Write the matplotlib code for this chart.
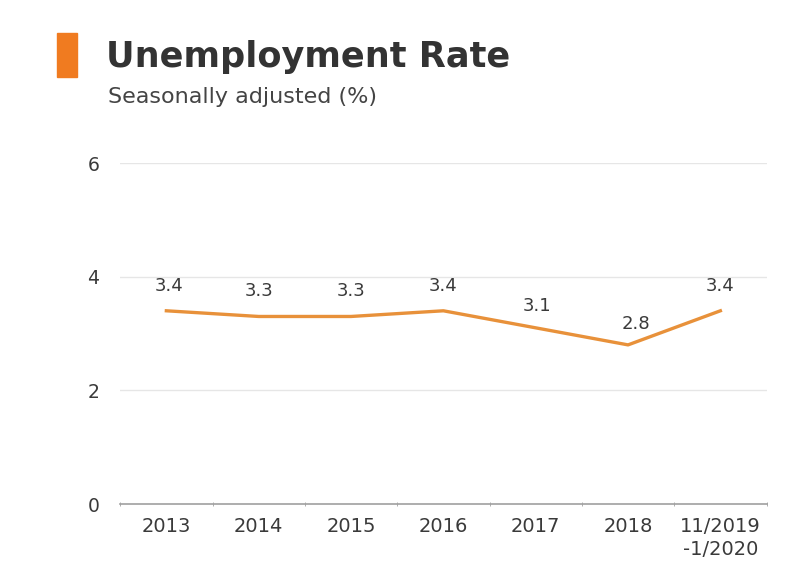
import numpy as np
import matplotlib.pyplot as plt
from matplotlib.patches import Rectangle

categories = ["2013", "2014", "2015", "2016", "2017", "2018", "11/2019\n-1/2020"]
rates = [3.4, 3.3, 3.3, 3.4, 3.1, 2.8, 3.4]
y_ticks = [0, 2, 4, 6]

plt.rcParams['font.family'] = ['DejaVu Sans']

fig = plt.figure(figsize=(7.96, 5.71), dpi=100)
ax = fig.add_axes([0.151, 0.1173, 0.812, 0.5972])

x = np.arange(len(categories))
ax.plot(x, rates, color='#E8913A', linewidth=2.4, solid_joinstyle='round')

# value labels, offsets in points
offsets = [(2, 18), (0, 18), (0, 18), (0, 18), (1, 16), (6, 15), (0, 18)]
for xi, v, off in zip(x, rates, offsets):
    ax.annotate(f"{v}", (xi, v), xytext=off, textcoords='offset points',
                ha='center', va='center', fontsize=13, color='#3a3a3a')

ax.set_xlim(-0.5, len(categories) - 0.5)
ax.set_ylim(0, 6)
ax.set_yticks(y_ticks)
ax.set_yticklabels([str(t) for t in y_ticks])
ax.set_xticks(x)
ax.set_xticklabels(categories, linespacing=1.3)
ax.set_xticks(np.arange(len(categories) + 1) - 0.5, minor=True)

ax.grid(axis='y', color='#e6e6e6', linewidth=1)
ax.set_axisbelow(True)
for s in ['top', 'right', 'left']:
    ax.spines[s].set_visible(False)
ax.spines['bottom'].set_color('#a0a0a0')
ax.spines['bottom'].set_linewidth(1.2)

ax.tick_params(axis='y', length=0, pad=15, labelsize=13.5, labelcolor='#3a3a3a')
ax.tick_params(axis='x', which='major', length=0, pad=9, labelsize=14, labelcolor='#3a3a3a')
ax.tick_params(axis='x', which='minor', length=3, color='#a0a0a0', direction='inout')

# header
fig.patches.append(Rectangle((57 / 796, 1 - 77 / 571), 20 / 796, 44 / 571,
                             transform=fig.transFigure, color='#F07B20'))
fig.text(106 / 796, 1 - 57 / 571, "Unemployment Rate", fontsize=25.3, fontweight='bold',
         color='#333333', va='center', ha='left')
fig.text(108 / 796, 1 - 97 / 571, "Seasonally adjusted (%)", fontsize=16,
         color='#444444', va='center', ha='left')

fig.savefig("out.png", dpi=100)
